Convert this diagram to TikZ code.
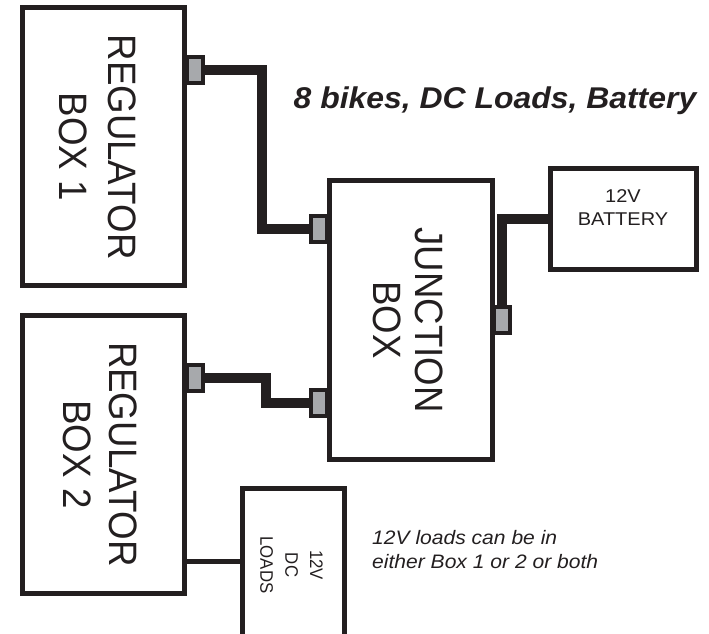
\documentclass[tikz,border=0pt]{standalone}
\usepackage{fontspec}
\setmainfont{Liberation Sans}
\definecolor{ink}{HTML}{231F20}
\definecolor{plug}{HTML}{A7A9AC}
\pgfdeclarelayer{wirelayer}
\pgfsetlayers{wirelayer,main}
\begin{document}
\begin{tikzpicture}[x=1pt,y=-1pt,
  bigbox/.style={draw=ink, line width=5pt, minimum width=162pt, minimum height=278pt, inner sep=0pt},
  smallbox/.style={draw=ink, line width=5pt, inner sep=0pt},
  plugbox/.style={draw=ink, fill=plug, line width=4pt, minimum width=16pt, minimum height=26pt, inner sep=0pt},
  wire/.style={draw=ink, line width=10pt, line join=miter},
  thinwire/.style={draw=ink, line width=5pt},
  vlabel/.style={rotate=-90, yscale=1.08, align=center, text=ink, inner sep=0pt},
  hlabel/.style={xscale=1.08, text=ink, inner sep=0pt}
]
\useasboundingbox (0,0) rectangle (709,633);
\clip (0,0) rectangle (709,633);

% plugs
\node[plugbox] (p1) at (195,70) {};
\node[plugbox] (p2) at (195,378) {};
\node[plugbox] (j1) at (319,229) {};
\node[plugbox] (j2) at (319,403) {};
\node[plugbox] (j3) at (502,320) {};

% boxes
\node[bigbox] (reg1) at (103.5,146.5) {};
\node[bigbox] (reg2) at (103.5,454) {};
\node[bigbox, minimum width=163pt, minimum height=279pt] (jb) at (411,320) {};
\node[smallbox, minimum width=145.5pt, minimum height=101pt] (bat) at (623.25,218.5) {};
\node[smallbox, minimum width=102pt, minimum height=164pt] (dc) at (293,570) {};

% labels
\node[vlabel, font=\fontsize{36.7}{45.4}\selectfont] (reg1t) at (97.5,147) {REGULATOR\\BOX 1};
\node[vlabel, font=\fontsize{36.7}{43}\selectfont] (reg2t) at (100,454.5) {REGULATOR\\BOX 2};
\node[vlabel, font=\fontsize{36.6}{39.5}\selectfont] (jbt) at (408,320) {JUNCTION\\BOX};
\node[vlabel, font=\fontsize{16.8}{23}\selectfont] (dct) at (291.5,565) {12V\\DC\\LOADS};
\node[hlabel, align=center, font=\fontsize{18.5}{23}\selectfont, anchor=base] (batt) at (623,225) {12V\\BATTERY};
\node[hlabel, xscale=0.985, anchor=base, font=\fontsize{30}{36}\selectfont\bfseries\itshape] (title) at (495,108) {8 bikes, DC Loads, Battery};
\node[hlabel, align=left, anchor=base west, font=\fontsize{19.5}{24}\selectfont\itshape] (note) at (372,568) {12V loads can be in\\either Box 1 or 2 or both};

% wires
\coordinate (b1) at (262,150);
\coordinate (b2) at (266,390);
\coordinate (dcy) at (0,561);
\begin{pgfonlayer}{wirelayer}
\draw[wire] (p1.center) -| (b1) |- (j1.center);
\draw[wire] (p2.center) -| (b2) |- (j2.center);
\draw[wire] (j3.center) |- (bat.west);
\draw[thinwire] (reg2.east |- dcy) -- (dc.west |- dcy);
\end{pgfonlayer}
\end{tikzpicture}
\end{document}
